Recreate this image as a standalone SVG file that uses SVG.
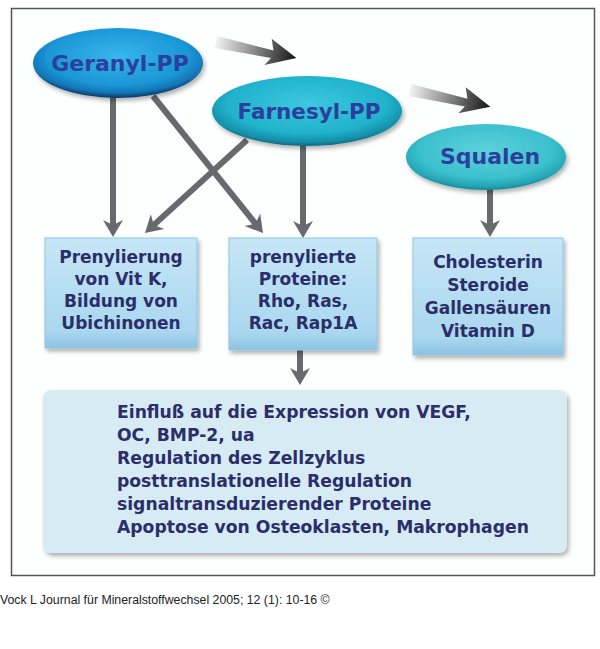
<svg xmlns="http://www.w3.org/2000/svg" width="600" height="649" viewBox="0 0 600 649">
<defs>
<style>
.bt{font-family:"DejaVu Sans",sans-serif;font-weight:bold;font-size:17px;fill:#2b2e68;text-anchor:middle}
.bl{font-family:"DejaVu Sans",sans-serif;font-weight:bold;font-size:17.2px;fill:#2b2e68}
.et{font-family:"DejaVu Sans",sans-serif;font-weight:bold;font-size:22px;fill:#2b3f9c;text-anchor:middle}
.cn{stroke:#66696e;stroke-width:6;fill:none;marker-end:url(#ah)}
.box{fill:url(#boxg);stroke:#8fc6e4;stroke-width:1;filter:url(#sh)}
</style>
<marker id="ah" markerUnits="userSpaceOnUse" viewBox="-10 -11 20 22" refX="0" refY="0" markerWidth="20" markerHeight="22" orient="auto">
<path d="M8 0 L-9 -10 L-4 0 L-9 10 Z" fill="#66696e"/>
</marker>
<linearGradient id="bigar" x1="0" y1="0" x2="1" y2="0">
<stop offset="0" stop-color="#f2f2f2"/>
<stop offset="0.4" stop-color="#9a9a9a"/>
<stop offset="1" stop-color="#151515"/>
</linearGradient>
<linearGradient id="boxg" x1="0" y1="0" x2="0" y2="1">
<stop offset="0" stop-color="#c6e6f6"/>
<stop offset="0.85" stop-color="#aad7ef"/>
<stop offset="1" stop-color="#8cc3e2"/>
</linearGradient>
<radialGradient id="g1" cx="0.5" cy="0.4" r="0.6">
<stop offset="0" stop-color="#38b6ec"/>
<stop offset="0.7" stop-color="#1a96d6"/>
<stop offset="0.88" stop-color="#1374b4"/>
<stop offset="1" stop-color="#0a355f"/>
</radialGradient>
<radialGradient id="g2" cx="0.5" cy="0.4" r="0.6">
<stop offset="0" stop-color="#3cc8df"/>
<stop offset="0.7" stop-color="#21b2cc"/>
<stop offset="0.9" stop-color="#148fa8"/>
<stop offset="1" stop-color="#0e6c80"/>
</radialGradient>
<radialGradient id="g3" cx="0.5" cy="0.4" r="0.6">
<stop offset="0" stop-color="#5dd2dc"/>
<stop offset="0.7" stop-color="#3bc0cd"/>
<stop offset="0.9" stop-color="#25a5b5"/>
<stop offset="1" stop-color="#1a8898"/>
</radialGradient>
<filter id="sh" x="-10%" y="-10%" width="125%" height="130%">
<feDropShadow dx="2" dy="3" stdDeviation="2" flood-color="#000" flood-opacity="0.3"/>
</filter>
</defs>
<rect x="0" y="0" width="600" height="649" fill="#ffffff"/>
<rect x="11.5" y="8.5" width="583" height="567" fill="#fdfefe" stroke="#555" stroke-width="1.5"/>
<g id="connectors">
<g transform="translate(216,42) rotate(11.3)"><polygon points="0,-6 58,-3 54,-14 82,0 52,13 57,5 0,6" fill="url(#bigar)"/></g>
<g transform="translate(410,90) rotate(11.7)"><polygon points="0,-6 58,-3 54,-14 82,0 52,13 57,5 0,6" fill="url(#bigar)"/></g>
<line class="cn" x1="113" y1="95" x2="113" y2="229"/>
<line class="cn" x1="153" y1="96" x2="258" y2="226.8"/>
<line class="cn" x1="247" y1="140" x2="150.9" y2="227.6"/>
<line class="cn" x1="303" y1="142" x2="303" y2="230"/>
<line class="cn" x1="490" y1="186" x2="490" y2="229"/>
<line class="cn" x1="300" y1="350" x2="300" y2="377"/>
</g>
<g id="geranyl">
<ellipse cx="118" cy="63" rx="85" ry="35" fill="url(#g1)" filter="url(#sh)"/>
<text class="et" x="120" y="71">Geranyl-PP</text>
</g>
<g id="farnesyl">
<ellipse cx="307" cy="111" rx="95" ry="35" fill="url(#g2)" filter="url(#sh)"/>
<text class="et" x="309" y="119" style="font-size:21.5px">Farnesyl-PP</text>
</g>
<g id="squalen">
<ellipse cx="486" cy="157" rx="80" ry="33" fill="url(#g3)" filter="url(#sh)"/>
<text class="et" x="490" y="164">Squalen</text>
</g>
<g id="box1">
<rect class="box" x="45" y="238" width="152" height="110"/>
<text class="bt" x="121" y="263">Prenylierung</text>
<text class="bt" x="121" y="285">von Vit K,</text>
<text class="bt" x="121" y="307">Bildung von</text>
<text class="bt" x="121" y="329">Ubichinonen</text>
</g>
<g id="box2">
<rect class="box" x="229" y="238" width="148" height="112"/>
<text class="bt" x="303" y="263">prenylierte</text>
<text class="bt" x="303" y="285">Proteine:</text>
<text class="bt" x="303" y="307">Rho, Ras,</text>
<text class="bt" x="303" y="329">Rac, Rap1A</text>
</g>
<g id="box3">
<rect class="box" x="413" y="238" width="150" height="117"/>
<text class="bt" x="488" y="268">Cholesterin</text>
<text class="bt" x="488" y="291">Steroide</text>
<text class="bt" x="488" y="314">Gallensäuren</text>
<text class="bt" x="488" y="337">Vitamin D</text>
</g>
<g id="box4">
<rect x="43" y="390" width="524" height="163" rx="8" fill="#d7ebf5" filter="url(#sh)"/>
<text class="bl" x="117" y="418">Einfluß auf die Expression von VEGF,</text>
<text class="bl" x="117" y="441">OC, BMP-2, ua</text>
<text class="bl" x="117" y="464">Regulation des Zellzyklus</text>
<text class="bl" x="117" y="487">posttranslationelle Regulation</text>
<text class="bl" x="117" y="510">signaltransduzierender Proteine</text>
<text class="bl" x="117" y="533">Apoptose von Osteoklasten, Makrophagen</text>
</g>
<text x="0" y="604" style="font-family:'Liberation Sans',Arial,sans-serif;font-size:12.3px;fill:#222">Vock L Journal für Mineralstoffwechsel 2005; 12 (1): 10-16 ©</text>
</svg>
